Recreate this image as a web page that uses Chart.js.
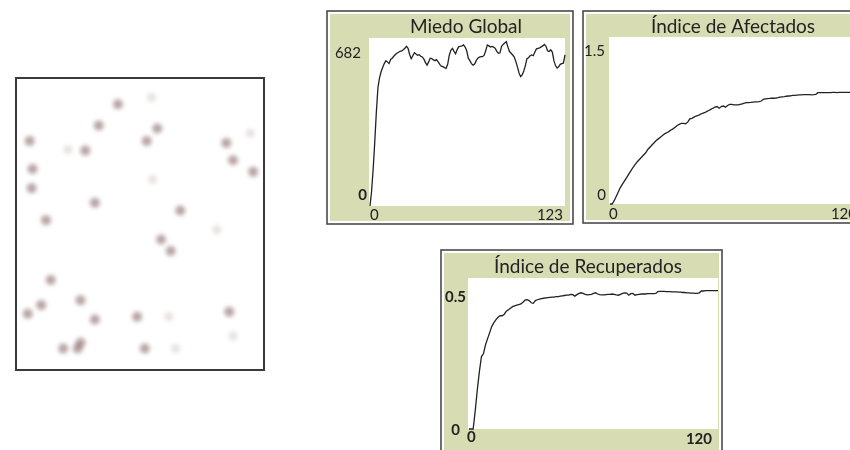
<!DOCTYPE html>
<html>
<head>
<meta charset="utf-8">
<script src="https://cdn.jsdelivr.net/npm/chart.js@4"></script>
<style>
  html, body { margin:0; padding:0; background:#fff; width:850px; height:450px; overflow:hidden; }
  canvas { position:absolute; }
  #world-box { position:absolute; left:15px; top:77px; width:246px; height:290px; border:2px solid #3a3a3a; background:#fff; overflow:hidden; }
  #world { left:0; top:0; filter:blur(2px); }
</style>
</head>
<body>
<div id="world-box"><canvas id="world" width="246" height="290"></canvas></div>
<canvas id="miedo"></canvas>
<canvas id="afectados"></canvas>
<canvas id="recuperados"></canvas>
<script>
// plot data, one value per tick
const miedoValues = [
  0,60,150,260,380,480,520,545,562,578,
  590,585,578,595,600,608,615,620,624,628,
  630,634,640,648,640,615,598,610,622,617,
  612,614,608,605,596,582,572,585,600,598,
  593,590,594,585,575,568,566,562,559,575,
  612,632,640,628,618,635,647,648,650,654,
  645,630,600,590,578,572,576,590,600,604,
  606,606,612,630,654,650,645,648,645,640,
  628,620,622,648,656,662,667,645,627,620,
  613,605,586,565,540,525,532,548,570,598,
  602,610,613,610,625,638,640,642,646,650,
  656,648,630,627,634,625,590,570,560,565,
  575,578,580,613
];
const afectadosValues = [
  0,0,0.03,0.07,0.11,0.15,0.18,0.21,0.24,0.27,
  0.30,0.33,0.355,0.38,0.40,0.42,0.44,0.46,0.49,0.51,
  0.53,0.55,0.57,0.585,0.60,0.615,0.63,0.64,0.65,0.665,
  0.675,0.69,0.705,0.715,0.725,0.725,0.72,0.735,0.765,0.77,
  0.78,0.79,0.795,0.805,0.815,0.82,0.83,0.84,0.85,0.86,
  0.87,0.875,0.86,0.875,0.88,0.87,0.885,0.895,0.895,0.89,
  0.89,0.89,0.895,0.90,0.905,0.91,0.91,0.912,0.915,0.917,
  0.918,0.92,0.925,0.94,0.945,0.947,0.948,0.95,0.95,0.952,
  0.955,0.96,0.963,0.965,0.968,0.97,0.972,0.975,0.976,0.978,
  0.98,0.98,0.982,0.982,0.983,0.982,0.98,0.982,0.985,1.0,
  1.0,1.0,1.001,1.001,1.0,1.001,1.002,1.002,1.001,1.002,
  1.002,1.003,1.002,1.003,1.003,1.003,1.004,1.003,1.004,1.004,
  1.004
];
const recuperadosValues = [
  0,0,0,0.06,0.13,0.19,0.24,0.25,0.28,0.30,
  0.32,0.34,0.352,0.362,0.37,0.375,0.375,0.38,0.39,0.395,
  0.40,0.405,0.408,0.41,0.412,0.414,0.42,0.427,0.428,0.425,
  0.418,0.416,0.425,0.428,0.43,0.432,0.433,0.434,0.435,0.436,
  0.437,0.437,0.438,0.438,0.44,0.441,0.442,0.443,0.443,0.446,
  0.445,0.44,0.445,0.449,0.451,0.449,0.446,0.444,0.445,0.446,
  0.449,0.451,0.447,0.445,0.444,0.444,0.445,0.446,0.446,0.447,
  0.446,0.444,0.443,0.446,0.449,0.451,0.45,0.443,0.448,0.449,
  0.443,0.445,0.446,0.447,0.447,0.447,0.448,0.448,0.448,0.448,
  0.449,0.455,0.456,0.456,0.456,0.455,0.455,0.455,0.454,0.454,
  0.454,0.453,0.453,0.452,0.452,0.451,0.451,0.45,0.45,0.449,
  0.449,0.451,0.457,0.457,0.458,0.458,0.458,0.458,0.458,0.458,
  0.458
];

// axis ranges / tick labels [min, max]
const miedoXTicks = [0, 123];
const miedoYTicks = [0, 682];
const afectadosXTicks = [0, 120];
const afectadosYTicks = [0, 1.5];
const recuperadosXTicks = [0, 120];
const recuperadosYTicks = [0, 0.5];

// turtles in the world view (x, y inside the view)
const turtleX = [100,80,141,130,66,8,11,10,213,220,241,76,165,25,145,155,30,61,20,6,76,120,216,43,61,58,128];
const turtleY = [21,43,46,59,69,59,88,108,61,79,91,123,131,141,161,173,203,224,229,238,244,241,236,274,268,274,274];
const faintX = [135,48,238,203,153,160,220,136];
const faintY = [14,68,51,151,241,274,261,99];

const GREEN = '#d7dcb3';
const INK = '#222';

// panel plugin: frame, green background, white plot, title and min/max labels
const panelPlugin = {
  id: 'panel',
  beforeDraw(chart, args, o) {
    const ctx = chart.ctx, a = chart.chartArea;
    ctx.save();
    ctx.fillStyle = '#fff';
    ctx.fillRect(0, 0, chart.width, chart.height);
    ctx.strokeStyle = '#4a4a4a';
    ctx.lineWidth = 1.6;
    ctx.strokeRect(o.pad, o.pad, chart.width - 2*o.pad, chart.height - 2*o.pad);
    ctx.fillStyle = GREEN;
    ctx.fillRect(o.pad + 3, o.pad + 3, chart.width - 2*o.pad - 6, chart.height - 2*o.pad - 6);
    ctx.fillStyle = '#fff';
    ctx.fillRect(a.left - 1, a.top, a.right - a.left + 1, a.bottom - a.top);
    ctx.restore();
  },
  afterDraw(chart, args, o) {
    const ctx = chart.ctx, a = chart.chartArea;
    const xs = chart.scales.x, ys = chart.scales.y;
    ctx.save();
    ctx.fillStyle = INK;
    ctx.font = '19px Lato';
    ctx.textAlign = 'center';
    ctx.textBaseline = 'alphabetic';
    ctx.fillText(o.title, a.left + o.titleDx, a.top - o.titleDy);
    ctx.textBaseline = 'middle';
    const f = (b) => (b ? 'bold ' : '') + '15px Lato';
    // y labels
    ctx.textAlign = 'right';
    ctx.font = f(o.boldYMax);
    ctx.fillText(String(o.yTicks[1]), a.left + o.yMax[0], ys.getPixelForValue(o.yTicks[1]) + o.yMax[1]);
    ctx.font = f(o.boldYMin);
    ctx.fillText(String(o.yTicks[0]), a.left + o.yMin[0], ys.getPixelForValue(o.yTicks[0]) + o.yMin[1]);
    // x labels
    ctx.font = f(o.boldX);
    ctx.textAlign = 'left';
    ctx.fillText(String(o.xTicks[0]), xs.getPixelForValue(o.xTicks[0]) + o.xMin[0], a.bottom + o.xMin[1]);
    ctx.textAlign = 'right';
    ctx.fillText(String(o.xTicks[1]), xs.getPixelForValue(o.xTicks[1]) + o.xMax[0], a.bottom + o.xMax[1]);
    ctx.restore();
  }
};

function makePlot(id, box, plot, values, xTicks, yTicks, label) {
  const pad = 3;
  const cv = document.getElementById(id);
  cv.width = box.w + 2*pad;
  cv.height = box.h + 2*pad;
  cv.style.left = (box.x - pad) + 'px';
  cv.style.top = (box.y - pad) + 'px';
  const cx = box.x - pad, cy = box.y - pad;
  new Chart(cv, {
    type: 'line',
    data: {
      datasets: [{
        data: values.map((v, i) => ({x: i, y: v})),
        borderColor: INK,
        borderWidth: 1.3,
        pointRadius: 0,
        tension: 0,
        clip: 3
      }]
    },
    options: {
      responsive: false,
      animation: false,
      events: [],
      layout: { padding: {
        left: plot.l - cx, top: plot.t - cy,
        right: cx + cv.width - plot.r, bottom: cy + cv.height - plot.b
      }},
      scales: {
        x: { type: 'linear', display: false, min: xTicks[0], max: xTicks[1] },
        y: { type: 'linear', display: false, min: yTicks[0], max: yTicks[1] }
      },
      plugins: {
        legend: { display: false },
        tooltip: { enabled: false },
        panel: Object.assign({ pad: pad + 1, xTicks, yTicks }, label)
      }
    },
    plugins: [panelPlugin]
  });
}

makePlot('miedo',
  {x:326, y:10, w:248, h:215}, {l:370, t:38, r:565, b:206},
  miedoValues, miedoXTicks, miedoYTicks,
  { title:'Miedo Global', titleDx:96, titleDy:5,
    yMax:[-9, 15], yMin:[-3, -11], xMin:[0, 9], xMax:[-2, 9],
    boldYMax:false, boldYMin:true, boldX:false });

makePlot('afectados',
  {x:582, y:10, w:285, h:214}, {l:610, t:37, r:862, b:204},
  afectadosValues, afectadosXTicks, afectadosYTicks,
  { title:'Índice de Afectados', titleDx:123, titleDy:4,
    yMax:[-5, 14], yMin:[-4, -9], xMin:[-1, 10], xMax:[-5, 10],
    boldYMax:false, boldYMin:false, boldX:false });

makePlot('recuperados',
  {x:440, y:249, w:283, h:215}, {l:469, t:278, r:718, b:429},
  recuperadosValues, recuperadosXTicks, recuperadosYTicks,
  { title:'Índice de Recuperados', titleDx:119, titleDy:5,
    yMax:[-3, 19], yMin:[-9, 1], xMin:[-2, 8], xMax:[-6, 10],
    boldYMax:true, boldYMin:true, boldX:true });

// world view with the turtles
new Chart(document.getElementById('world'), {
  type: 'scatter',
  data: {
    datasets: [
      { data: turtleX.map((x, i) => ({x, y: turtleY[i]})),
        backgroundColor: 'rgba(125,90,90,0.55)', borderWidth: 0, pointRadius: 5 },
      { data: faintX.map((x, i) => ({x, y: faintY[i]})),
        backgroundColor: 'rgba(150,120,120,0.22)', borderWidth: 0, pointRadius: 4.5 }
    ]
  },
  options: {
    responsive: false,
    animation: false,
    events: [],
    layout: { padding: 0 },
    scales: {
      x: { type: 'linear', display: false, min: 0, max: 246 },
      y: { type: 'linear', display: false, min: 0, max: 290, reverse: true }
    },
    plugins: { legend: { display: false }, tooltip: { enabled: false } }
  }
});
</script>
</body>
</html>
